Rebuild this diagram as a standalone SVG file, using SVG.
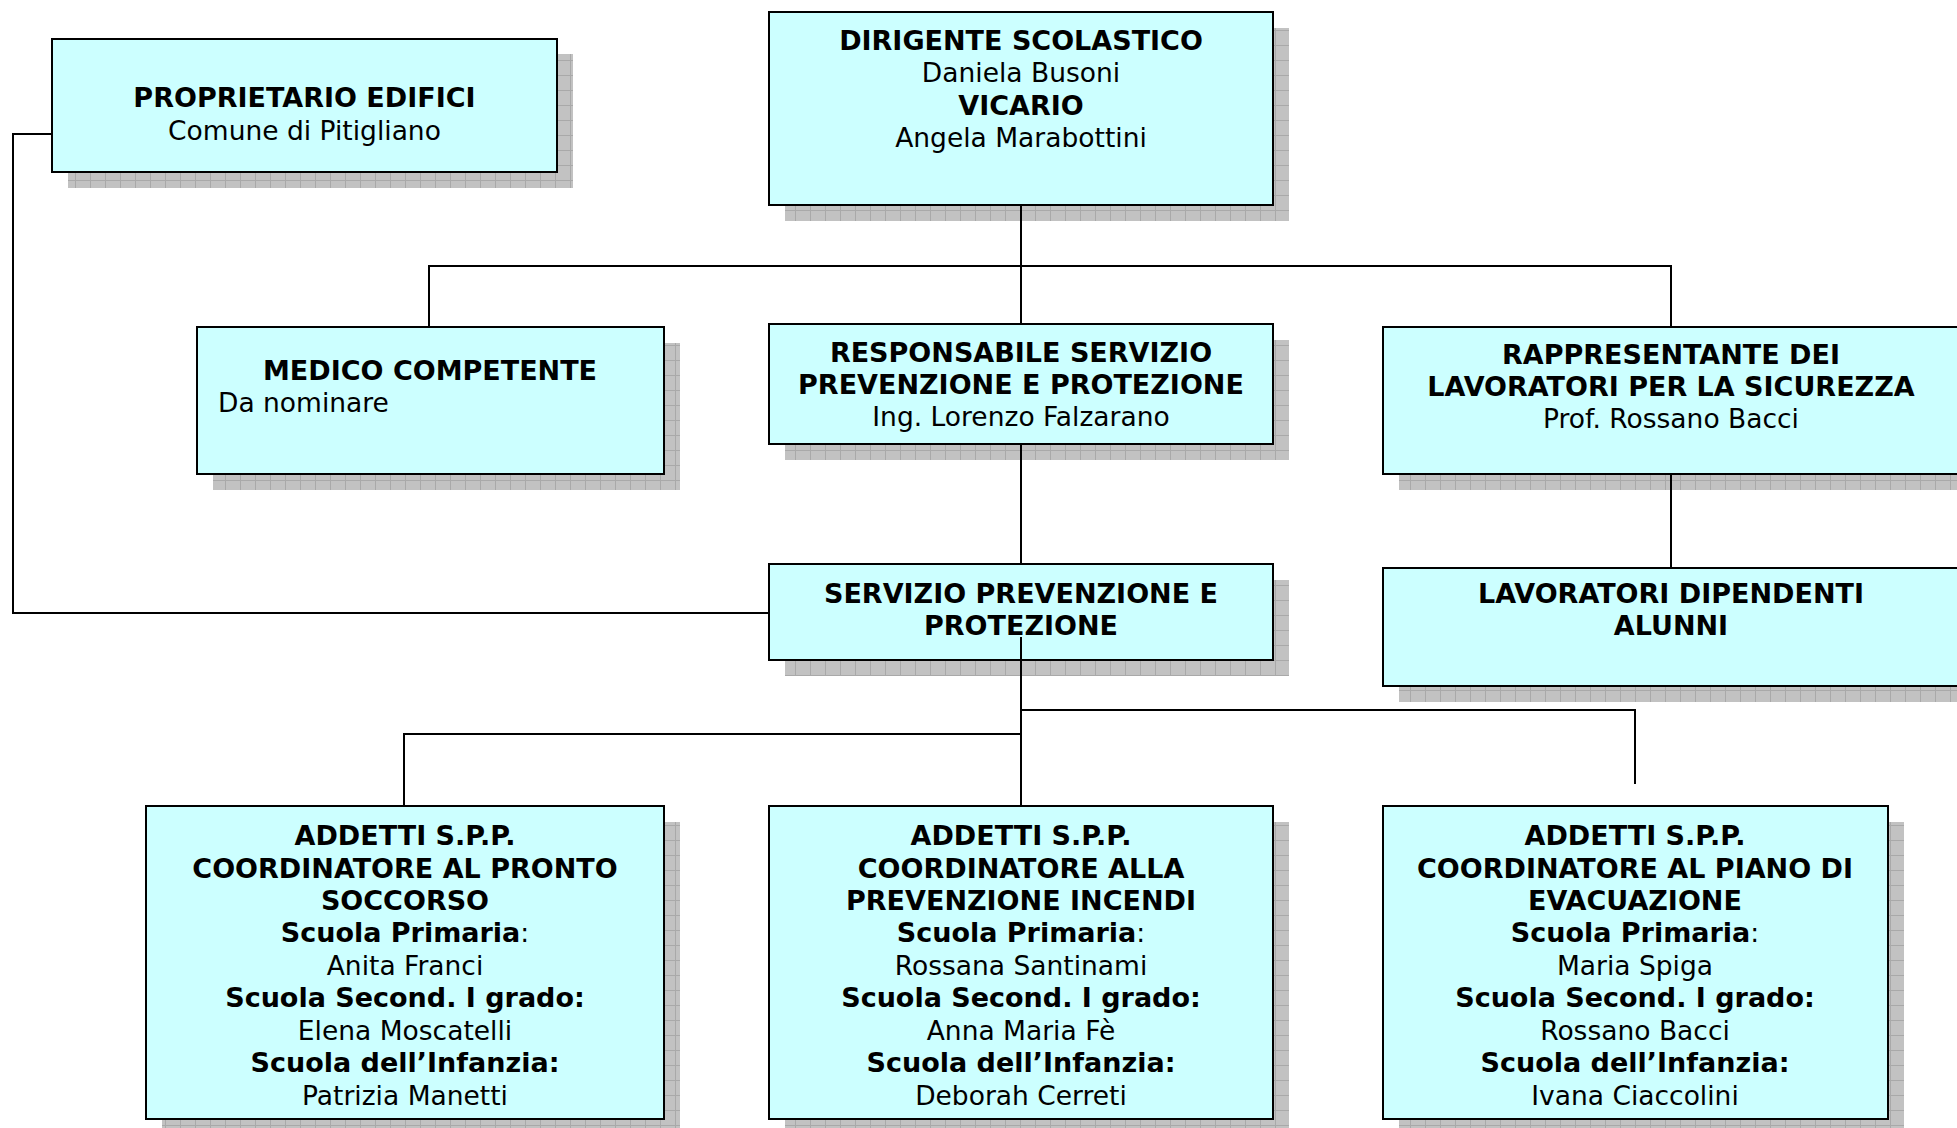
<svg xmlns="http://www.w3.org/2000/svg" width="1957" height="1128" viewBox="0 0 1957 1128">
<style>
.box{fill:#CCFFFF;stroke:#000;stroke-width:2}
.sh{fill:url(#grid)}
.t{font-family:"DejaVu Sans","Verdana",sans-serif;font-size:26.5px;fill:#000;text-anchor:middle}
.b{font-weight:bold;font-size:27px}
.con{fill:none;stroke:#000;stroke-width:2}
</style>
<defs>
<pattern id="grid" patternUnits="userSpaceOnUse" width="15" height="15">
<rect width="15" height="15" fill="#c2c2c2"/>
<path d="M0,0.5H15M0.5,0V15" stroke="#a9a9a9" stroke-width="1"/>
</pattern>
</defs>
<rect width="1957" height="1128" fill="#fff"/>

<g id="shadows">
<rect class="sh" x="68" y="54" width="505" height="134"/>
<rect class="sh" x="785" y="28" width="504" height="193"/>
<rect class="sh" x="213" y="343" width="467" height="147"/>
<rect class="sh" x="785" y="340" width="504" height="120"/>
<rect class="sh" x="1399" y="343" width="580" height="147"/>
<rect class="sh" x="785" y="580" width="504" height="96"/>
<rect class="sh" x="1399" y="584" width="580" height="118"/>
<rect class="sh" x="162" y="822" width="518" height="313"/>
<rect class="sh" x="785" y="822" width="504" height="313"/>
<rect class="sh" x="1399" y="822" width="505" height="313"/>
</g>

<g id="connectors">
<path class="con" d="M52,134H13V613H769"/>
<path class="con" d="M1021,205V324"/>
<path class="con" d="M429,327V266H1671V327"/>
<path class="con" d="M1021,444V564"/>
<path class="con" d="M1671,474V568"/>
<path class="con" d="M404,806V734H1021"/>
<path class="con" d="M1021,710H1635V784"/>
<path class="con" d="M1021,660V806"/>
</g>

<g id="proprietario">
<rect class="box" x="52" y="39" width="505" height="133"/>
<text class="t"><tspan class="b" x="304.5" y="107">PROPRIETARIO EDIFICI</tspan><tspan x="304.5" y="140">Comune di Pitigliano</tspan></text>
</g>

<g id="dirigente">
<rect class="box" x="769" y="12" width="504" height="193"/>
<text class="t"><tspan class="b" x="1021" y="50">DIRIGENTE SCOLASTICO</tspan><tspan x="1021" y="82">Daniela Busoni</tspan><tspan class="b" x="1021" y="115">VICARIO</tspan><tspan x="1021" y="147">Angela Marabottini</tspan></text>
</g>

<g id="medico">
<rect class="box" x="197" y="327" width="467" height="147"/>
<text class="t"><tspan class="b" x="430" y="380">MEDICO COMPETENTE</tspan><tspan x="218" y="412" style="text-anchor:start">Da nominare</tspan></text>
</g>

<g id="rspp">
<rect class="box" x="769" y="324" width="504" height="120"/>
<text class="t"><tspan class="b" x="1021" y="362">RESPONSABILE SERVIZIO</tspan><tspan class="b" x="1021" y="394">PREVENZIONE E PROTEZIONE</tspan><tspan x="1021" y="426">Ing. Lorenzo Falzarano</tspan></text>
</g>

<g id="rls">
<rect class="box" x="1383" y="327" width="580" height="147"/>
<text class="t"><tspan class="b" x="1671" y="364">RAPPRESENTANTE DEI</tspan><tspan class="b" x="1671" y="396">LAVORATORI PER LA SICUREZZA</tspan><tspan x="1671" y="428">Prof. Rossano Bacci</tspan></text>
</g>

<g id="spp">
<rect class="box" x="769" y="564" width="504" height="96"/>
<text class="t"><tspan class="b" x="1021" y="603">SERVIZIO PREVENZIONE E</tspan><tspan class="b" x="1021" y="635">PROTEZIONE</tspan></text>
<path class="con" d="M1021,637V660"/>
</g>

<g id="lavoratori">
<rect class="box" x="1383" y="568" width="580" height="118"/>
<text class="t"><tspan class="b" x="1671" y="603">LAVORATORI DIPENDENTI</tspan><tspan class="b" x="1671" y="635">ALUNNI</tspan></text>
</g>

<g id="addetti-soccorso">
<rect class="box" x="146" y="806" width="518" height="313"/>
<text class="t"><tspan class="b" x="405" y="845">ADDETTI S.P.P.</tspan><tspan class="b" x="405" y="877.5">COORDINATORE AL PRONTO</tspan><tspan class="b" x="405" y="910">SOCCORSO</tspan><tspan x="405" y="942"><tspan class="b">Scuola Primaria</tspan>:</tspan><tspan x="405" y="975">Anita Franci</tspan><tspan class="b" x="405" y="1007">Scuola Second. I grado:</tspan><tspan x="405" y="1040">Elena Moscatelli</tspan><tspan class="b" x="405" y="1072">Scuola dell’Infanzia:</tspan><tspan x="405" y="1104.5">Patrizia Manetti</tspan></text>
</g>

<g id="addetti-incendi">
<rect class="box" x="769" y="806" width="504" height="313"/>
<text class="t"><tspan class="b" x="1021" y="845">ADDETTI S.P.P.</tspan><tspan class="b" x="1021" y="877.5">COORDINATORE ALLA</tspan><tspan class="b" x="1021" y="910">PREVENZIONE INCENDI</tspan><tspan x="1021" y="942"><tspan class="b">Scuola Primaria</tspan>:</tspan><tspan x="1021" y="975">Rossana Santinami</tspan><tspan class="b" x="1021" y="1007">Scuola Second. I grado:</tspan><tspan x="1021" y="1040">Anna Maria Fè</tspan><tspan class="b" x="1021" y="1072">Scuola dell’Infanzia:</tspan><tspan x="1021" y="1104.5">Deborah Cerreti</tspan></text>
</g>

<g id="addetti-evacuazione">
<rect class="box" x="1383" y="806" width="505" height="313"/>
<text class="t"><tspan class="b" x="1635" y="845">ADDETTI S.P.P.</tspan><tspan class="b" x="1635" y="877.5">COORDINATORE AL PIANO DI</tspan><tspan class="b" x="1635" y="910">EVACUAZIONE</tspan><tspan x="1635" y="942"><tspan class="b">Scuola Primaria</tspan>:</tspan><tspan x="1635" y="975">Maria Spiga</tspan><tspan class="b" x="1635" y="1007">Scuola Second. I grado:</tspan><tspan x="1635" y="1040">Rossano Bacci</tspan><tspan class="b" x="1635" y="1072">Scuola dell’Infanzia:</tspan><tspan x="1635" y="1104.5">Ivana Ciaccolini</tspan></text>
</g>
</svg>
